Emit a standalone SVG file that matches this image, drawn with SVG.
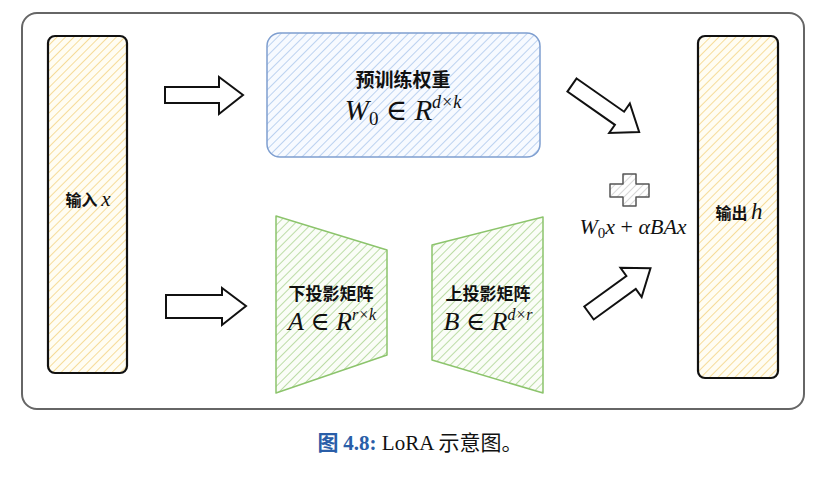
<svg xmlns="http://www.w3.org/2000/svg" width="825" height="477" viewBox="0 0 825 477">
<defs>
<pattern id="hy" width="6" height="6" patternUnits="userSpaceOnUse" patternTransform="rotate(45)"><rect width="6" height="6" fill="#fffdf3"/><line x1="0" y1="0" x2="0" y2="6" stroke="#f6dc9a" stroke-width="2"/></pattern>
<pattern id="hb" width="6" height="6" patternUnits="userSpaceOnUse" patternTransform="rotate(45)"><rect width="6" height="6" fill="#f7faff"/><line x1="0" y1="0" x2="0" y2="6" stroke="#bcd2f0" stroke-width="2"/></pattern>
<pattern id="hg" width="6" height="6" patternUnits="userSpaceOnUse" patternTransform="rotate(45)"><rect width="6" height="6" fill="#fafdf7"/><line x1="0" y1="0" x2="0" y2="6" stroke="#bcdca6" stroke-width="2"/></pattern>
<pattern id="hgr" width="5" height="5" patternUnits="userSpaceOnUse" patternTransform="rotate(45)"><rect width="5" height="5" fill="#fff"/><line x1="0" y1="0" x2="0" y2="5" stroke="#ccc" stroke-width="1.5"/></pattern>
</defs>
<style>
.zh{font-family:"Noto Sans CJK SC","Noto Sans",sans-serif;font-weight:bold;fill:#111}
.m{font-family:"Liberation Serif","DejaVu Serif",serif;font-style:italic;fill:#111}
.arr{fill:#fff;stroke:#111;stroke-width:2;stroke-linejoin:miter}
</style>
<rect x="22" y="13" width="782" height="396" rx="15" fill="#fff" stroke="#666" stroke-width="2"/>
<g id="input"><rect x="48" y="36" width="79" height="337" rx="7" fill="url(#hy)" stroke="#111" stroke-width="2.2"/>
<text x="88" y="206" text-anchor="middle"><tspan class="zh" font-size="16">输入 </tspan><tspan class="m" font-size="21">x</tspan></text></g>
<g id="output"><rect x="698" y="36" width="80" height="342" rx="7" fill="url(#hy)" stroke="#111" stroke-width="2.2"/>
<text x="739" y="219" text-anchor="middle"><tspan class="zh" font-size="16">输出 </tspan><tspan class="m" font-size="23">h</tspan></text></g>
<g id="w0"><rect x="267" y="33" width="273" height="124" rx="13" fill="url(#hb)" stroke="#7f9fd0" stroke-width="1.5"/>
<text x="403" y="87" text-anchor="middle" class="zh" font-size="19">预训练权重</text>
<text x="403" y="120" text-anchor="middle" class="m" font-size="29">W<tspan font-style="normal" font-size="19" dy="5">0</tspan><tspan font-style="normal" dy="-5"> ∈ </tspan>R<tspan font-size="18" dy="-12">d×k</tspan></text></g>
<g id="A"><path d="M276,216 L387,250 L387,355 L276,393 Z" fill="url(#hg)" stroke="#8cc46c" stroke-width="1.5" stroke-linejoin="round"/>
<text x="331" y="300" text-anchor="middle" class="zh" font-size="17">下投影矩阵</text>
<text x="332" y="330" text-anchor="middle" class="m" font-size="26">A<tspan font-style="normal"> ∈ </tspan>R<tspan font-size="16" dy="-10">r×k</tspan></text></g>
<g id="B"><path d="M432,245 L543,217 L543,393 L432,360 Z" fill="url(#hg)" stroke="#8cc46c" stroke-width="1.5" stroke-linejoin="round"/>
<text x="488" y="300" text-anchor="middle" class="zh" font-size="17">上投影矩阵</text>
<text x="488" y="330" text-anchor="middle" class="m" font-size="26">B<tspan font-style="normal"> ∈ </tspan>R<tspan font-size="16" dy="-10">d×r</tspan></text></g>
<g id="connectors">
<path class="arr" d="M165,87 H219 V77 L243,95 L219,114 V103 H165 Z"/>
<path class="arr" d="M166,295 H222 V288 L246,306 L222,325 V318 H166 Z"/>
<path class="arr" transform="translate(572,85) rotate(35)" d="M0,-8 H58 V-18 L82,0 L58,18 V8 H0 Z"/>
<path class="arr" transform="translate(589,313) rotate(-36)" d="M0,-8 H52 V-18 L76,0 L52,18 V8 H0 Z"/>
</g>
<g id="plus"><path d="M623,174 H636 V184 H649 V197 H636 V206 H623 V197 H610 V184 H623 Z" fill="url(#hgr)" stroke="#555" stroke-width="1.5" stroke-linejoin="round"/></g>
<text x="633" y="234" text-anchor="middle" class="m" font-size="22">W<tspan font-style="normal" font-size="15" dy="4">0</tspan><tspan dy="-4">x</tspan><tspan font-style="normal"> + </tspan>αBAx</text>
<text x="420" y="450" text-anchor="middle" font-size="21"><tspan font-family="Noto Sans CJK SC,sans-serif" font-weight="bold" fill="#2a5ea8">图 </tspan><tspan font-family="Liberation Serif,serif" font-weight="bold" fill="#2a5ea8">4.8:</tspan><tspan font-family="Liberation Serif,serif" fill="#111"> LoRA </tspan><tspan font-family="Noto Sans CJK SC,sans-serif" fill="#111">示意图。</tspan></text>
</svg>
